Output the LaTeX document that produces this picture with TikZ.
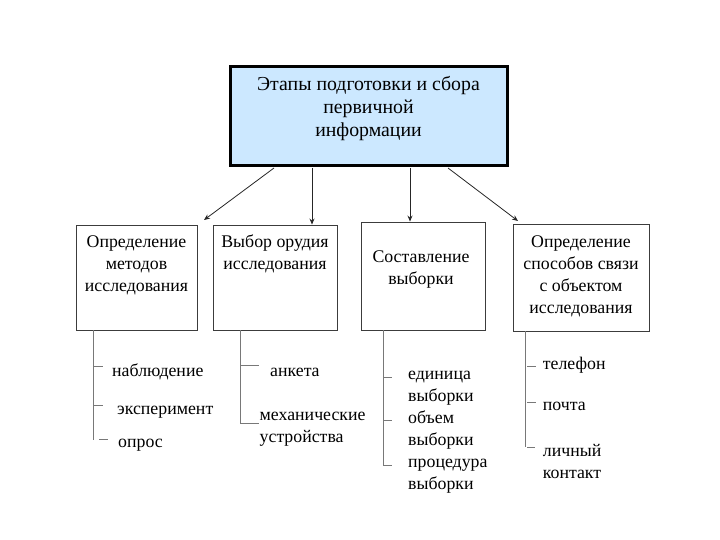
\documentclass[tikz,border=0pt]{standalone}
\usepackage{fontspec}
\setmainfont{Liberation Serif}
\usetikzlibrary{arrows.meta}
\definecolor{lblue}{RGB}{204,232,255}
\definecolor{edge}{RGB}{60,60,60}
\definecolor{brk}{RGB}{120,120,120}
\begin{document}
\begin{tikzpicture}[x=1pt,y=-1pt,
  mainbox/.style={draw=black,line width=3pt,fill=lblue,minimum width=277pt,minimum height=99pt,inner sep=0pt},
  sbox/.style={draw=edge,line width=0.9pt,inner sep=0pt},
  ttl/.style={font=\fontsize{19.8}{23}\selectfont,align=center,anchor=north,inner sep=0pt},
  btxt/.style={font=\fontsize{17.8}{22}\selectfont,align=center,anchor=north,inner sep=0pt},
  itxt/.style={font=\fontsize{17.8}{22}\selectfont,align=left,anchor=north west,inner sep=0pt},
  arr/.style={draw=black!85,line width=0.8pt,-{Stealth[length=6pt,width=5pt]}},
  br/.style={draw=brk,line width=1pt}]
\useasboundingbox (0,0) rectangle (720,540);
% main box
\node[mainbox] (m) at (368.5,116.5) {};
\node[ttl] (mt) at (368.5,90-16.1) {\strut Этапы подготовки и сбора\\\strut первичной\\\strut информации};
% sub boxes
\node[sbox,minimum width=121pt,minimum height=105pt] (b1) at (136.5,277.5) {};
\node[sbox,minimum width=124pt,minimum height=105pt] (b2) at (275,277.5) {};
\node[sbox,minimum width=124pt,minimum height=108pt] (b3) at (423,276) {};
\node[sbox,minimum width=136pt,minimum height=107pt] (b4) at (581,277.5) {};
\node[btxt] (t1) at (136.5,247-15.4) {\strut Определение\\\strut методов\\\strut исследования};
\node[btxt] (t2) at (275,247-15.4) {\strut Выбор орудия\\\strut исследования};
\node[btxt] (t3) at (421,262-15.4) {\strut Составление\\\strut выборки};
\node[btxt] (t4) at (581,247-15.4) {\strut Определение\\\strut способов связи\\\strut с объектом\\\strut исследования};
% arrows
\coordinate (a1) at (274,168);
\coordinate (a2) at (312,168);
\coordinate (a3) at (410,168);
\coordinate (a4) at (448,168);
\coordinate (e1) at (204,220);
\coordinate (e4) at (518,221);
\draw[arr] (a1) -- (e1);
\draw[arr] (a2) -- (b2.north -| a2);
\draw[arr] (a3) -- (b3.north -| a3);
\draw[arr] (a4) -- (e4);
% column 1
\draw[br] (93,330) -- (93,440);
\draw[br] (93,366) -- (103,366);
\draw[br] (93,405) -- (103,405);
\draw[br] (99,439) -- (108,439);
\node[itxt] (c11) at (112,376-15.4) {\strut наблюдение};
\node[itxt] (c12) at (117,414-15.4) {\strut эксперимент};
\node[itxt] (c13) at (118,447-15.4) {\strut опрос};
% column 2
\draw[br] (240.5,330) -- (240.5,423) -- (259,423);
\draw[br] (240.5,365) -- (259,365);
\node[itxt] (c21) at (270,376-15.4) {\strut анкета};
\node[itxt] (c22) at (259.5,420-15.4) {\strut механические\\\strut устройства};
% column 3
\draw[br] (383,330) -- (383,465) -- (392,465);
\draw[br] (383,377) -- (392,377);
\draw[br] (383,420) -- (392,420);
\node[itxt] (c31) at (408,379-15.4) {\strut единица\\\strut выборки\\\strut объем\\\strut выборки\\\strut процедура\\\strut выборки};
% column 4
\draw[br] (525,331) -- (525,447);
\draw[br] (527,366) -- (536,366);
\draw[br] (527,402) -- (536,402);
\draw[br] (527,447) -- (535,447);
\node[itxt] (c41) at (542.7,369-15.4) {\strut телефон};
\node[itxt] (c42) at (542.7,410-15.4) {\strut почта};
\node[itxt] (c43) at (542.7,456-15.4) {\strut личный\\\strut контакт};
\end{tikzpicture}
\end{document}
